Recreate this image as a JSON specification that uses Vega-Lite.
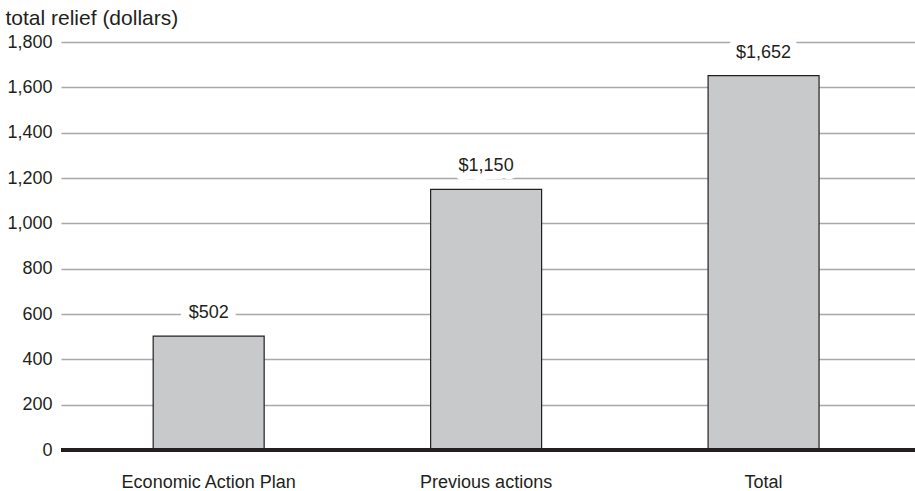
{
  "$schema": "https://vega.github.io/schema/vega-lite/v6.json",
  "width": 854,
  "height": 408,
  "autosize": "none",
  "padding": {"left": 61, "top": 42, "right": 0, "bottom": 41},
  "background": "white",
  "config": {
    "view": {"stroke": null},
    "font": "Liberation Sans",
    "axis": {"labelColor": "#231f20", "titleColor": "#231f20", "labelFont": "Liberation Sans", "titleFont": "Liberation Sans"}
  },
  "data": {
    "values": [
      {"category": "Economic Action Plan", "value": 502},
      {"category": "Previous actions", "value": 1150},
      {"category": "Total", "value": 1652}
    ]
  },
  "encoding": {
    "x": {
      "field": "category",
      "type": "nominal",
      "sort": null,
      "scale": {"paddingInner": 0.6, "paddingOuter": 0.339, "align": 0.49},
      "axis": {"title": null, "labelAngle": 0, "domain": false, "ticks": false, "labelPadding": 23, "labelFontSize": 18, "grid": false}
    },
    "y": {
      "field": "value",
      "type": "quantitative",
      "scale": {"domain": [0, 1800], "nice": false},
      "axis": {
        "values": [0, 200, 400, 600, 800, 1000, 1200, 1400, 1600, 1800],
        "format": ",.0f",
        "domain": false,
        "ticks": false,
        "labelPadding": 9,
        "labelFontSize": 18,
        "gridColor": "#a7a9ac",
        "gridWidth": 1.3,
        "title": "total relief (dollars)",
        "titleAngle": 0,
        "titleAlign": "left",
        "titleBaseline": "alphabetic",
        "titleFontWeight": "normal",
        "titleFontSize": 21,
        "titleX": -56,
        "titleY": -18
      }
    }
  },
  "layer": [
    {"mark": {"type": "bar", "fill": "#c8c9cb", "stroke": "#231f20", "strokeWidth": 1.2}},
    {"mark": {"type": "text", "baseline": "middle", "align": "center", "fontSize": 18, "fill": "white", "stroke": "white", "strokeWidth": 16, "strokeJoin": "round", "yOffset": -23}, "encoding": {"text": {"field": "value", "type": "quantitative", "format": "$,"}}},
    {"mark": {"type": "text", "baseline": "middle", "align": "center", "fontSize": 18, "fill": "#231f20", "yOffset": -23}, "encoding": {"text": {"field": "value", "type": "quantitative", "format": "$,"}}},
    {"mark": {"type": "rule", "stroke": "#231f20", "strokeWidth": 4}, "encoding": {"y": {"datum": 0}, "x": null}}
  ]
}
